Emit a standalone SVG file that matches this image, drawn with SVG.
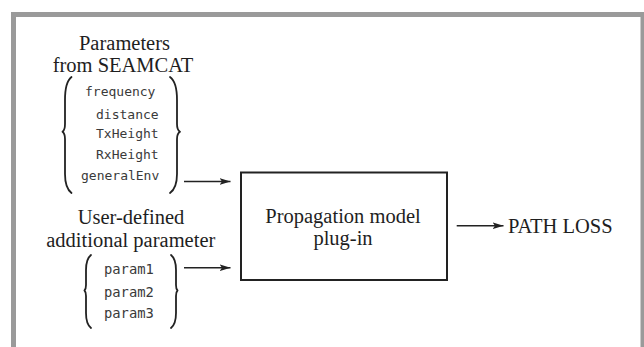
<svg xmlns="http://www.w3.org/2000/svg" width="644" height="347" viewBox="0 0 644 347">
  <defs>
    <style>
      .serif { font-family: "Liberation Serif", "Times New Roman", serif; font-size: 20.5px; fill: #1e1e1e; }
      .mono { font-family: "DejaVu Sans Mono", monospace; font-size: 13px; fill: #3a3a3a; }
      .mono2 { font-family: "DejaVu Sans Mono", monospace; font-size: 13.8px; fill: #3a3a3a; }
      .brace { fill: none; stroke: #222; stroke-width: 1.8; stroke-linejoin: round; stroke-linecap: round; }
      .conn { stroke: #222; stroke-width: 1.6; fill: none; }
    </style>
    <marker id="arrow" markerWidth="12" markerHeight="8" refX="11" refY="4" orient="auto" markerUnits="userSpaceOnUse">
      <path d="M0,0.6 L11,4 L0,7.4 L2.5,4 Z" fill="#222"/>
    </marker>
  </defs>
  <rect width="644" height="347" fill="#ffffff"/>
  <path d="M13.5 347 V14.5 H643 V347" fill="none" stroke="#9a9a9a" stroke-width="5"/>

  <g id="seamcat-params">
    <text class="serif" x="124.5" y="50" text-anchor="middle">Parameters</text>
    <text class="serif" x="123" y="72" text-anchor="middle">from SEAMCAT</text>
    <path class="brace" d="M71.5 77 Q65 82 65 100 L65 124 Q65 130 62.5 131.7 Q65 133.5 65 139 L65 174 Q65 188 71.5 193"/>
    <path class="brace" d="M170 77 Q177 82 177 100 L177 124 Q177 130 180 131.7 Q177 133.5 177 139 L177 174 Q177 188 170 193"/>
    <text class="mono" x="85" y="95.5">frequency</text>
    <text class="mono" x="96" y="118.7">distance</text>
    <text class="mono" x="96" y="138.3">TxHeight</text>
    <text class="mono" x="96" y="159.3">RxHeight</text>
    <text class="mono" x="81" y="180">generalEnv</text>
  </g>

  <g id="user-params">
    <text class="serif" x="131" y="224.3" text-anchor="middle">User-defined</text>
    <text class="serif" x="130.8" y="246.7" text-anchor="middle">additional parameter</text>
    <path class="brace" d="M91 255 Q86 259 86 270 L86 285 Q86 289 84.5 290.5 Q86 292 86 296 L86 313 Q86 324 91 328"/>
    <path class="brace" d="M171 255 Q176 259 176 270 L176 285 Q176 289 177.5 290.5 Q176 292 176 296 L176 313 Q176 324 171 328"/>
    <text class="mono2" x="104" y="274.3">param1</text>
    <text class="mono2" x="104" y="296.7">param2</text>
    <text class="mono2" x="104" y="318.3">param3</text>
  </g>

  <g id="plugin">
    <rect x="241" y="172.5" width="206" height="107.5" fill="none" stroke="#222" stroke-width="2"/>
    <text class="serif" x="343" y="222.7" text-anchor="middle">Propagation model</text>
    <text class="serif" x="343" y="244.5" text-anchor="middle">plug-in</text>
  </g>

  <g id="path-loss">
    <text class="serif" x="508" y="233" font-size="20">PATH LOSS</text>
  </g>

  <g id="connectors">
    <line class="conn" x1="184" y1="181.5" x2="230.5" y2="181.5" marker-end="url(#arrow)"/>
    <line class="conn" x1="184" y1="267.7" x2="230.5" y2="267.7" marker-end="url(#arrow)"/>
    <line class="conn" x1="456.7" y1="225.7" x2="503.5" y2="225.7" marker-end="url(#arrow)"/>
  </g>
</svg>
